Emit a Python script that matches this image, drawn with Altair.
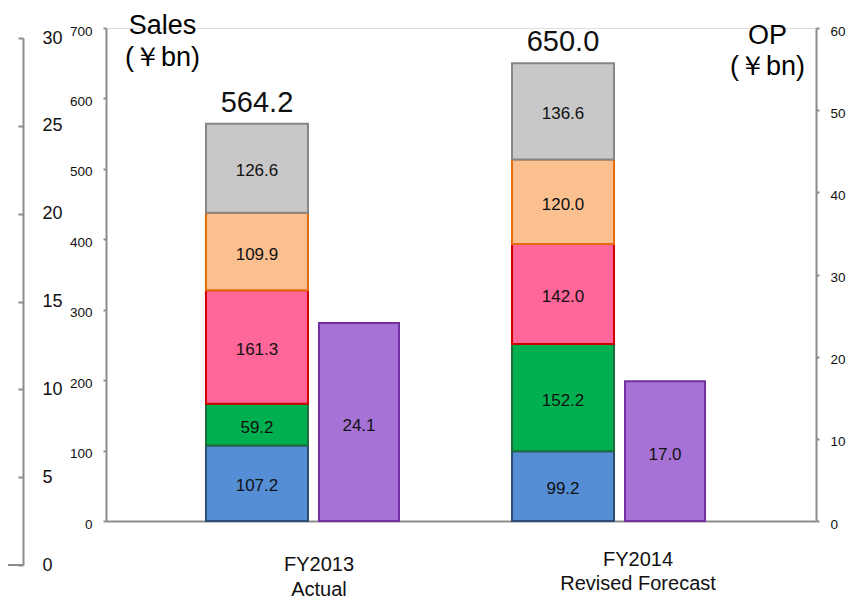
import altair as alt
import pandas as pd

# ---- data ----
categories = ["FY2013", "FY2014"]
category_lines = [["FY2013", "Actual"], ["FY2014", "Revised Forecast"]]
segments = ["Segment 1", "Segment 2", "Segment 3", "Segment 4", "Segment 5"]
segment_fills = ["#558ED5", "#00B050", "#FF6699", "#FAC090", "#C8C8C8"]
segment_strokes = ["#2C4D75", "#1E6B3C", "#D00000", "#E46C0A", "#868686"]
sales_fy2013 = [107.2, 59.2, 161.3, 109.9, 126.6]
sales_fy2014 = [99.2, 152.2, 142.0, 120.0, 136.6]
sales_totals = [564.2, 650.0]
op_values = [24.1, 17.0]
sales_ticks = [0, 100, 200, 300, 400, 500, 600, 700]
op_ticks = [0, 10, 20, 30, 40, 50, 60]
left_ticks = [0, 5, 10, 15, 20, 25, 30]
slots = ["FY2013 Sales", "FY2013 OP", "gap", "FY2014 Sales", "FY2014 OP"]

FONT = "Liberation Sans"
AX = "#8C8C8C"

rows = []
for cat, vals in zip(categories, [sales_fy2013, sales_fy2014]):
    for i, (seg, v) in enumerate(zip(segments, vals)):
        rows.append({"slot": cat + " Sales", "segment": seg, "idx": i, "value": v})
sales_df = pd.DataFrame(rows)
totals_df = pd.DataFrame({"slot": [c + " Sales" for c in categories], "total": sales_totals})
op_df = pd.DataFrame({"slot": [c + " OP" for c in categories], "op": op_values})
left_df = pd.DataFrame({"v": left_ticks})

xscale = alt.Scale(domain=slots, paddingInner=0, paddingOuter=0.98)
xenc = alt.X("slot:N", scale=xscale,
             axis=alt.Axis(labels=False, ticks=False, title=None, domainColor=AX,
                           domainWidth=2, grid=False, orient="bottom"))
xplain = alt.X("slot:N", scale=xscale)

sales_scale = alt.Scale(domain=[0, 700], nice=False)
op_scale = alt.Scale(domain=[0, 60], nice=False)

sales_bars = alt.Chart(sales_df).mark_bar(strokeWidth=2).encode(
    x=xenc,
    y=alt.Y("value:Q", stack="zero", scale=sales_scale,
            axis=alt.Axis(orient="left", values=sales_ticks, tickSize=3, labelPadding=11,
                          labelFontSize=13.5, labelColor="#111", labelFont=FONT, labelOffset=3,
                          domainColor=AX, domainWidth=2, tickColor=AX, tickWidth=2, grid=False,
                          title=["Sales", "(￥bn)"], titleAngle=0, titleX=56, titleY=5,
                          titleAlign="center", titleBaseline="alphabetic", titleFontSize=27,
                          titleFontWeight="normal", titleFont=FONT, titleColor="#000",
                          titleLineHeight=32)),
    color=alt.Color("segment:N", scale=alt.Scale(domain=segments, range=segment_fills), legend=None),
    stroke=alt.Stroke("segment:N", scale=alt.Scale(domain=segments, range=segment_strokes), legend=None),
    order=alt.Order("idx:Q", sort="ascending"),
)

seg_text = alt.Chart(sales_df).transform_stack(
    stack="value", groupby=["slot"], as_=["v0", "v1"],
    sort=[alt.SortField("idx", order="ascending")]
).transform_calculate(mid="(datum.v0 + datum.v1) / 2").mark_text(
    fontSize=17, font=FONT, color="#111", dy=3
).encode(
    x=xplain,
    y=alt.Y("mid:Q", scale=sales_scale, axis=None),
    text=alt.Text("value:Q", format=".1f"),
)

total_text = alt.Chart(totals_df).mark_text(
    fontSize=29, font=FONT, color="#111", baseline="alphabetic", dy=-12
).encode(
    x=xplain,
    y=alt.Y("total:Q", scale=sales_scale, axis=None),
    text=alt.Text("total:Q", format=".1f"),
)

op_bars = alt.Chart(op_df).mark_bar(
    strokeWidth=2, color="#A772D5", stroke="#7030A0", width=alt.RelativeBandSize(80 / 102)
).encode(
    x=xplain,
    y=alt.Y("op:Q", scale=op_scale,
            axis=alt.Axis(orient="right", values=op_ticks, tickSize=3, labelPadding=11,
                          labelFontSize=13.5, labelColor="#111", labelFont=FONT, labelOffset=3,
                          domainColor=AX, domainWidth=2, tickColor=AX, tickWidth=2, grid=False,
                          title=["OP", "(￥bn)"], titleAngle=0, titleX=-49, titleY=15,
                          titleAlign="center", titleBaseline="alphabetic", titleFontSize=27,
                          titleFontWeight="normal", titleFont=FONT, titleColor="#000",
                          titleLineHeight=31)),
)

op_text = alt.Chart(op_df).transform_calculate(mid="datum.op / 2").mark_text(
    fontSize=17, font=FONT, color="#111", dy=4
).encode(
    x=xplain,
    y=alt.Y("mid:Q", scale=op_scale, axis=None),
    text=alt.Text("op:Q", format=".1f"),
)

left_axis = alt.Chart(left_df).mark_point(opacity=0).encode(
    y=alt.Y("v:Q", scale=alt.Scale(domain=[0, 30], range=[537, 10], nice=False),
            axis=alt.Axis(orient="left", offset=83, values=left_ticks, tickSize=5,
                          labelAlign="left", labelPadding=-24, labelBaseline="middle",
                          labelFontSize=18, labelColor="#111", labelFont=FONT,
                          domainColor=AX, domainWidth=2, tickColor=AX, tickWidth=2,
                          grid=False, title=None)),
)

left_base = alt.Chart(left_df).mark_rule(color=AX, strokeWidth=2).encode(
    x=alt.value(-98), x2=alt.value(-83), y=alt.value(537)
)

cat1 = alt.Chart(pd.DataFrame({"slot": ["FY2013 OP"], "lines": [category_lines[0]]})).mark_text(
    fontSize=20, font=FONT, color="#111", baseline="alphabetic", dx=-40, lineHeight=25
).encode(x=xplain, y=alt.value(543), text="lines")

cat2 = alt.Chart(pd.DataFrame({"slot": ["FY2014 OP"], "lines": [category_lines[1]]})).mark_text(
    fontSize=20, font=FONT, color="#111", baseline="alphabetic", dx=-27, lineHeight=24
).encode(x=xplain, y=alt.value(538), text="lines")

chart = alt.layer(
    sales_bars, seg_text, total_text, op_bars, op_text, left_axis, left_base, cat1, cat2
).resolve_scale(y="independent").properties(
    width=710, height=493,
    autosize=alt.AutoSizeParams(type="none"),
    padding={"left": 98, "top": 20, "right": 30, "bottom": 78},
).configure_view(strokeWidth=0).configure(font=FONT)

chart.save("out.html", embed_options={"renderer": "svg", "actions": False})
